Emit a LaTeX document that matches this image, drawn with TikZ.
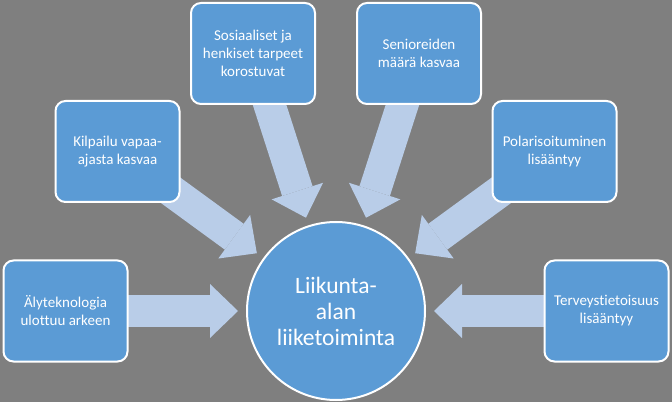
\documentclass[tikz,border=0pt]{standalone}
\usepackage{fontspec}
\setmainfont{Carlito}[Ligatures=NoCommon]
\usetikzlibrary{arrows.meta}
\definecolor{backgray}{RGB}{127,127,127}
\definecolor{boxblue}{RGB}{91,155,213}
\definecolor{arrowblue}{RGB}{185,205,232}
\pgfdeclarelayer{backdrop}
\pgfdeclarelayer{arrows}
\pgfsetlayers{backdrop,arrows,main}
\tikzset{
	trendbox/.style={rectangle, rounded corners=10pt, fill=boxblue, draw=white, line width=2pt,
		minimum width=124pt, minimum height=101pt, align=center, text=white,
		font=\fontsize{15}{18}\selectfont},
	hub/.style={circle, fill=boxblue, draw=white, line width=2pt, minimum size=178pt,
		align=center, text=white, font=\fontsize{23.5}{26}\selectfont},
	push/.style={draw=arrowblue, line width=32pt, shorten >=8pt,
		-{Triangle[width=54pt, length=28pt, line width=0pt, fill=arrowblue]}}
}

\begin{document}
\begin{tikzpicture}[x=1pt, y=1pt]
		\begin{pgfonlayer}{backdrop}
			\fill[backgray] (0,0) rectangle (672,402);
		\end{pgfonlayer}
		\node[hub]      (hub) at (336,91)     {Liikunta-\\alan\\liiketoiminta};
		\node[trendbox] (aly) at (65.5,91)    {Älyteknologia\\ulottuu arkeen};
		\node[trendbox] (kil) at (117.5,250.5) {Kilpailu vapaa-\\ajasta kasvaa};
		\node[trendbox] (sos) at (253,348.5)  {Sosiaaliset ja\\henkiset tarpeet\\korostuvat};
		\node[trendbox] (sen) at (419,348.5)  {Senioreiden\\määrä kasvaa};
		\node[trendbox] (pol) at (554.5,250.5) {Polarisoituminen\\lisääntyy};
		\node[trendbox] (ter) at (606.5,91)   {Terveystietoisuus\\lisääntyy};
		\begin{pgfonlayer}{arrows}
			\foreach \src in {aly,kil,sos,sen,pol,ter}
				\draw[push] (\src.center) -- (hub);
		\end{pgfonlayer}
\end{tikzpicture}
\end{document}
